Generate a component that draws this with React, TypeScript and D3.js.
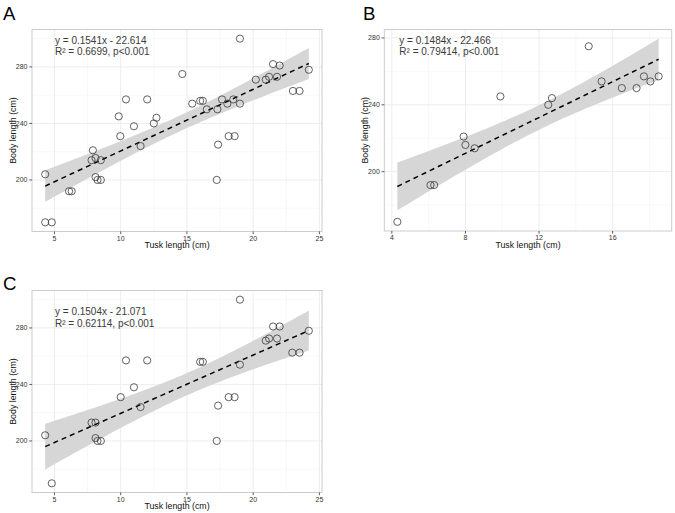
import React from "react";
import * as d3 from "d3";

// ---------- data ----------
const tuskA = [4.3, 4.8, 4.3, 6.1, 6.3, 7.9, 7.8, 8.1, 8.5, 8.1, 8.25, 8.5, 9.85, 9.97, 10.4, 11.0, 11.5, 12.0, 12.5, 12.7, 14.65, 15.4, 16.0, 16.2, 16.5, 17.3, 17.65, 18.05, 18.5, 19.0, 19.0, 17.35, 18.15, 18.6, 17.25, 20.2, 20.95, 21.2, 21.8, 21.5, 22.0, 23.0, 23.5, 24.2];
const bodyA = [170, 170, 204, 192, 192, 221, 214, 215.5, 214, 202, 200, 200, 245, 231, 257, 238, 224, 257, 240, 244, 275, 254, 256, 256, 250, 250, 257, 254, 257, 254, 300, 225, 231, 231, 200, 271, 271, 273, 273, 282, 281, 263, 263, 278];

const tuskB = [4.3, 6.1, 6.3, 7.9, 8.0, 8.5, 9.9, 12.5, 12.7, 14.7, 15.4, 16.5, 17.3, 17.7, 18.05, 18.5];
const bodyB = [170, 192, 192, 221, 216, 214, 245, 240, 244, 275, 254, 250, 250, 257, 254, 257];

const tuskC = [4.3, 4.8, 7.8, 8.1, 8.1, 8.25, 8.5, 10.0, 10.4, 11.0, 11.5, 12.0, 16.0, 16.2, 19.0, 19.0, 17.35, 18.15, 18.6, 17.25, 20.95, 21.2, 21.8, 21.5, 22.0, 22.95, 23.5, 24.2];
const bodyC = [204, 170, 213, 213, 202, 200, 200, 231, 257, 238, 224, 257, 256, 256, 300, 254, 225, 231, 231, 200, 271, 272.5, 272.5, 281, 281, 262.5, 262.5, 278];

const eqA = ["y = 0.1541x - 22.614", "R² = 0.6699, p<0.001"];
const eqB = ["y = 0.1484x - 22.466", "R² = 0.79414, p<0.001"];
const eqC = ["y = 0.1504x - 21.071", "R² = 0.62114, p<0.001"];

const xTicksAC = [5, 10, 15, 20, 25];
const xMinorAC = [2.5, 7.5, 12.5, 17.5, 22.5];
const xTicksB = [4, 8, 12, 16];
const xMinorB = [2, 6, 10, 14, 18];
const yTicks = [200, 240, 280];
const yMinor = [160, 180, 220, 260, 300];

const xTitle = "Tusk length (cm)";
const yTitle = "Body length (cm)";

const FONT = "'Liberation Sans', Arial, Helvetica, sans-serif";

function tq(df: number) {
  const z = 1.959964;
  const g1 = (z ** 3 + z) / 4;
  const g2 = (5 * z ** 5 + 16 * z ** 3 + 3 * z) / 96;
  const g3 = (3 * z ** 7 + 19 * z ** 5 + 17 * z ** 3 - 15 * z) / 384;
  return z + g1 / df + g2 / df ** 2 + g3 / df ** 3;
}

function fit(xs: number[], ys: number[]) {
  const n = xs.length;
  const mx = d3.mean(xs)!;
  const my = d3.mean(ys)!;
  let sxx = 0, sxy = 0;
  xs.forEach((x, i) => { sxx += (x - mx) ** 2; sxy += (x - mx) * (ys[i] - my); });
  const b = sxy / sxx;
  const a = my - b * mx;
  let sse = 0;
  xs.forEach((x, i) => { sse += (ys[i] - a - b * x) ** 2; });
  const s = Math.sqrt(sse / (n - 2));
  const t = tq(n - 2);
  const [x0, x1] = d3.extent(xs) as [number, number];
  const pts = d3.range(0, 81).map((k) => {
    const x = x0 + ((x1 - x0) * k) / 80;
    const yhat = a + b * x;
    const se = s * Math.sqrt(1 / n + (x - mx) ** 2 / sxx);
    return { x, y: yhat, lo: yhat - t * se, hi: yhat + t * se };
  });
  return pts;
}

type Box = { left: number; top: number; right: number; bottom: number };

function Panel(props: {
  xs: number[]; ys: number[]; box: Box; xTicks: number[]; xMinor: number[];
  eq: string[]; eqDx: number; eqDy: number; letter: string; letterPos: [number, number]; yTitleX: number;
}) {
  const { xs, ys, box, xTicks, xMinor, eq, eqDx, eqDy, letter, letterPos, yTitleX } = props;
  const band = fit(xs, ys);
  const [xa, xb] = d3.extent(xs) as [number, number];
  const ylo = Math.min(d3.min(ys)!, d3.min(band, (d) => d.lo)!);
  const yhi = Math.max(d3.max(ys)!, d3.max(band, (d) => d.hi)!);
  const xe = (xb - xa) * 0.05;
  const ye = (yhi - ylo) * 0.05;
  const x = d3.scaleLinear().domain([xa - xe, xb + xe]).range([box.left, box.right]);
  const y = d3.scaleLinear().domain([ylo - ye, yhi + ye]).range([box.bottom, box.top]);
  const [dx0, dx1] = x.domain();
  const [dy0, dy1] = y.domain();
  const area = d3.area<any>().x((d) => x(d.x)).y0((d) => y(d.lo)).y1((d) => y(d.hi));
  const line = d3.line<any>().x((d) => x(d.x)).y((d) => y(d.y));
  const inX = (v: number) => v >= dx0 && v <= dx1;
  const inY = (v: number) => v >= dy0 && v <= dy1;
  const cx = (box.left + box.right) / 2;
  const cy = (box.top + box.bottom) / 2;
  return (
    <g fontFamily={FONT}>
      <text x={letterPos[0]} y={letterPos[1]} fontSize={18.6} fill="#000">{letter}</text>
      <rect x={box.left} y={box.top} width={box.right - box.left} height={box.bottom - box.top} fill="#fff" />
      {xMinor.filter(inX).map((v) => (
        <line key={"xm" + v} x1={x(v)} x2={x(v)} y1={box.top} y2={box.bottom} stroke="#f4f4f4" strokeWidth={0.6} />
      ))}
      {yMinor.filter(inY).map((v) => (
        <line key={"ym" + v} y1={y(v)} y2={y(v)} x1={box.left} x2={box.right} stroke="#f4f4f4" strokeWidth={0.6} />
      ))}
      {xTicks.filter(inX).map((v) => (
        <line key={"xg" + v} x1={x(v)} x2={x(v)} y1={box.top} y2={box.bottom} stroke="#ebebeb" strokeWidth={0.9} />
      ))}
      {yTicks.filter(inY).map((v) => (
        <line key={"yg" + v} y1={y(v)} y2={y(v)} x1={box.left} x2={box.right} stroke="#ebebeb" strokeWidth={0.9} />
      ))}
      <path d={area(band)!} fill="#d6d6d6" />
      <path d={line(band)!} fill="none" stroke="#000" strokeWidth={1.5} strokeDasharray="5,4" />
      {xs.map((v, i) => (
        <circle key={i} cx={x(v)} cy={y(ys[i])} r={3.6} fill="none" stroke="#3a3a3a" strokeWidth={0.8} />
      ))}
      <rect x={box.left} y={box.top} width={box.right - box.left} height={box.bottom - box.top} fill="none" stroke="#cccccc" strokeWidth={1} />
      {xTicks.filter(inX).map((v) => (
        <g key={"xt" + v}>
          <line x1={x(v)} x2={x(v)} y1={box.bottom} y2={box.bottom + 2.7} stroke="#333" strokeWidth={0.8} />
          <text x={x(v)} y={box.bottom + 9} fontSize={7} textAnchor="middle" fill="#333">{v}</text>
        </g>
      ))}
      {yTicks.filter(inY).map((v) => (
        <g key={"yt" + v}>
          <line x1={box.left - 2.7} x2={box.left} y1={y(v)} y2={y(v)} stroke="#333" strokeWidth={0.8} />
          <text x={box.left - 4.5} y={y(v) + 2.5} fontSize={7} textAnchor="end" fill="#333">{v}</text>
        </g>
      ))}
      <text x={cx} y={box.bottom + 16.5} fontSize={8.8} textAnchor="middle" fill="#111">{xTitle}</text>
      <text transform={`translate(${yTitleX},${cy}) rotate(-90)`} fontSize={8.8} textAnchor="middle" fill="#111">{yTitle}</text>
      {eq.map((s, i) => (
        <text key={i} x={box.left + eqDx} y={box.top + eqDy + i * 11.5} fontSize={10} fill="#3a3a3a">{s}</text>
      ))}
    </g>
  );
}

export default function App() {
  return (
    <svg width={675} height={513} style={{ position: "absolute", left: 0, top: 0, background: "#fff" }}>
      <rect width={675} height={513} fill="#fff" />
      <Panel xs={tuskA} ys={bodyA} box={{ left: 32, top: 29.5, right: 322, bottom: 231.5 }} xTicks={xTicksAC} xMinor={xMinorAC}
        eq={eqA} eqDx={23} eqDy={14} letter="A" letterPos={[3, 20]} yTitleX={16} />
      <Panel xs={tuskB} ys={bodyB} box={{ left: 384.3, top: 29.5, right: 671.7, bottom: 231 }} xTicks={xTicksB} xMinor={xMinorB}
        eq={eqB} eqDx={15} eqDy={14} letter="B" letterPos={[363, 20]} yTitleX={367.5} />
      <Panel xs={tuskC} ys={bodyC} box={{ left: 32, top: 290.5, right: 322, bottom: 492.5 }} xTicks={xTicksAC} xMinor={xMinorAC}
        eq={eqC} eqDx={23} eqDy={24.5} letter="C" letterPos={[3, 290]} yTitleX={16} />
    </svg>
  );
}
